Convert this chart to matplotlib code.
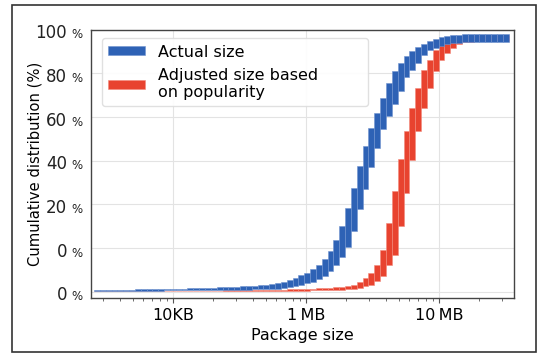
import numpy as np
import matplotlib
matplotlib.use('Agg')
import matplotlib.pyplot as plt
from matplotlib.patches import Rectangle

# Bins (log10 of size), 71 log-spaced bins
bin_edges_log = np.linspace(3.4086, 6.5239, 72)

# Band per bin: lower / upper cumulative fraction
blue_hi = [0.006, 0.006, 0.006, 0.007, 0.007, 0.007, 0.007, 0.008, 0.008, 0.008,
           0.009, 0.009, 0.010, 0.010, 0.011, 0.011, 0.012, 0.012, 0.013, 0.014,
           0.015, 0.016, 0.017, 0.018, 0.019, 0.020, 0.021, 0.022, 0.024, 0.026,
           0.028, 0.032, 0.037, 0.044, 0.052, 0.062, 0.072, 0.085, 0.102, 0.126,
           0.156, 0.197, 0.250, 0.318, 0.396, 0.478, 0.555, 0.625, 0.684, 0.741,
           0.798, 0.841, 0.875, 0.900, 0.920, 0.936, 0.946, 0.956, 0.966, 0.971,
           0.977, 0.980, 0.982, 0.983, 0.984, 0.985, 0.985, 0.985, 0.985, 0.985, 0.985]
blue_lo = [0.004, 0.004, 0.004, 0.004, 0.004, 0.004, 0.004, 0.004, 0.004, 0.004,
           0.004, 0.004, 0.005, 0.005, 0.005, 0.005, 0.005, 0.005, 0.006, 0.006,
           0.006, 0.006, 0.006, 0.007, 0.007, 0.007, 0.007, 0.008, 0.008, 0.008,
           0.009, 0.011, 0.014, 0.017, 0.020, 0.025, 0.031, 0.038, 0.048, 0.061,
           0.078, 0.102, 0.132, 0.170, 0.230, 0.315, 0.392, 0.475, 0.548, 0.620,
           0.672, 0.715, 0.765, 0.818, 0.848, 0.875, 0.905, 0.922, 0.932, 0.940,
           0.945, 0.949, 0.950, 0.952, 0.953, 0.953, 0.953, 0.953, 0.953, 0.953, 0.953]
red_hi = [0.004, 0.004, 0.004, 0.004, 0.004, 0.004, 0.004, 0.004, 0.004, 0.004,
          0.004, 0.004, 0.004, 0.004, 0.004, 0.004, 0.004, 0.004, 0.004, 0.004,
          0.004, 0.004, 0.005, 0.005, 0.005, 0.005, 0.005, 0.006, 0.006, 0.006,
          0.006, 0.007, 0.007, 0.008, 0.008, 0.009, 0.010, 0.011, 0.012, 0.013,
          0.015, 0.017, 0.018, 0.020, 0.026, 0.035, 0.052, 0.071, 0.103, 0.158,
          0.261, 0.386, 0.505, 0.612, 0.701, 0.777, 0.847, 0.885, 0.924, 0.943,
          0.955, 0.963, 0.970, 0.975, 0.978, 0.980, 0.980, 0.980, 0.980, 0.980, 0.980]
red_lo = [0.002, 0.002, 0.002, 0.002, 0.002, 0.002, 0.002, 0.002, 0.002, 0.002,
          0.002, 0.002, 0.002, 0.002, 0.002, 0.002, 0.002, 0.002, 0.002, 0.002,
          0.002, 0.002, 0.002, 0.002, 0.002, 0.003, 0.003, 0.003, 0.003, 0.003,
          0.003, 0.003, 0.003, 0.004, 0.004, 0.004, 0.004, 0.005, 0.005, 0.005,
          0.006, 0.006, 0.007, 0.008, 0.010, 0.014, 0.020, 0.027, 0.040, 0.060,
          0.100, 0.140, 0.250, 0.377, 0.504, 0.612, 0.701, 0.777, 0.841, 0.885,
          0.911, 0.930, 0.945, 0.952, 0.955, 0.956, 0.956, 0.956, 0.956, 0.956, 0.956]

series_labels = ['Actual size', 'Adjusted size based\non popularity']
xtick_vals = [1e4, 1e5, 1e6]
xtick_labels = ['10KB', '1\u2009MB', '10\u2009MB']
ytick_vals = [0, 1/6, 2/6, 3/6, 4/6, 5/6, 1]
ytick_nums = ['0', '0', '20', '40', '60', '80', '100']

BLUE = '#2e62b5'
RED = '#e8432f'

fig = plt.figure(figsize=(5.46, 3.64), dpi=100)
ax = fig.add_axes([0.166, 0.181, 0.775, 0.737])

left = 10 ** bin_edges_log[:-1]
right = 10 ** bin_edges_log[1:]
widths = right - left

rlo = np.array(red_lo)
rhi = np.array(red_hi)
blo = np.array(blue_lo)
bhi = np.array(blue_hi)

ax.bar(left, rhi - rlo, width=widths, bottom=rlo, align='edge', color=RED,
       edgecolor='#f28a7c', linewidth=0.4, label=series_labels[1], zorder=2)
ax.bar(left, bhi - blo, width=widths, bottom=blo, align='edge', color=BLUE,
       edgecolor='#6f93d0', linewidth=0.4, label=series_labels[0], zorder=3)

ax.set_xscale('log')
ax.set_xlim(10 ** 3.383, 10 ** 6.5626)
ax.set_ylim(-0.025, 1.0)

ax.set_xticks(xtick_vals)
ax.set_xticklabels(xtick_labels, fontsize=11.5)
ax.tick_params(axis='x', which='major', length=3.5, color='#555555')
ax.tick_params(axis='x', which='minor', length=2.5, color='#555555')

ax.set_yticks(ytick_vals)
ax.set_yticklabels([])
ax.tick_params(axis='y', length=0)
ytrans = ax.get_yaxis_transform()
for yv, num in zip(ytick_vals, ytick_nums):
    ax.annotate(num, xy=(0, yv), xycoords=ytrans, xytext=(-17, -6.2),
                textcoords='offset points', ha='right', va='baseline',
                fontsize=12, color='#222222', annotation_clip=False)
    ax.annotate('%', xy=(0, yv), xycoords=ytrans, xytext=(-13.8, -6.2),
                textcoords='offset points', ha='left', va='baseline',
                fontsize=8.5, color='#222222', annotation_clip=False)

ax.grid(True, which='major', color='#e3e3e3', linewidth=0.8, zorder=0)
ax.set_axisbelow(True)
for s in ax.spines.values():
    s.set_color('#444444')
    s.set_linewidth(1.0)

ax.set_xlabel('Package size', fontsize=11.5)
ax.set_ylabel('Cumulative distribution (%)', fontsize=10.6, labelpad=31)

h, l = ax.get_legend_handles_labels()
ax.legend(h[::-1], l[::-1], loc='upper left', fontsize=11.5, handlelength=2.3,
          handleheight=0.5, bbox_to_anchor=(0.026, 0.0, 0.629, 0.969),
          mode='expand', borderaxespad=0.0, framealpha=0.9, edgecolor='#dddddd')

# outer frame around the figure
fig.patches.append(Rectangle((12 / 546, 1 - 352 / 364), 524 / 546, 347 / 364,
                             transform=fig.transFigure, fill=False,
                             edgecolor='#333333', linewidth=1.2))

fig.savefig('out.png', dpi=100)
